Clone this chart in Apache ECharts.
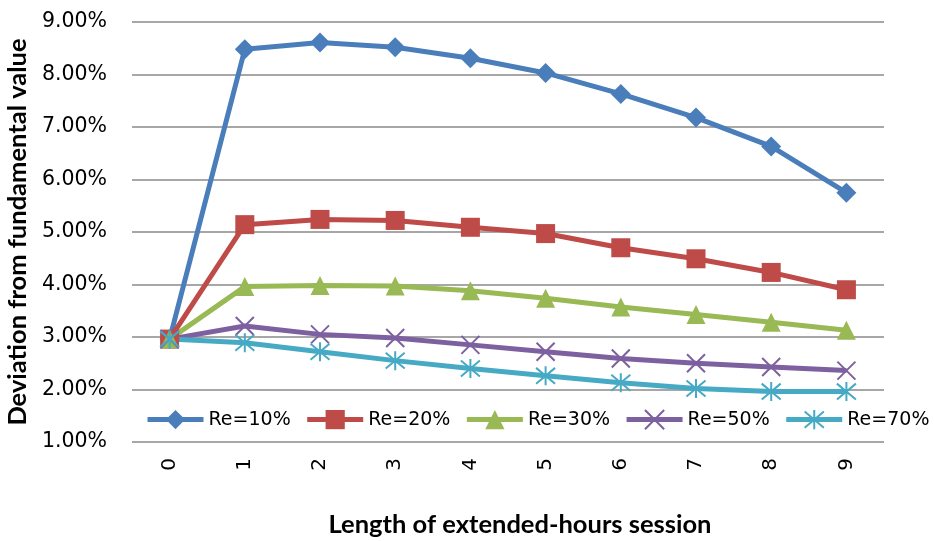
<!DOCTYPE html>
<html>
<head>
<meta charset="utf-8">
<script src="https://cdn.jsdelivr.net/npm/echarts@6/dist/echarts.min.js"></script>
<style>
  html, body { margin: 0; padding: 0; background: #ffffff; }
  #chart { width: 934px; height: 541px; }
</style>
</head>
<body>
<div id="chart"></div>
<script>
// Session lengths (categories)
var sessionLengths = ['0', '1', '2', '3', '4', '5', '6', '7', '8', '9'];

// Deviation from fundamental value, in percent, per Re level
var re10 = [2.96, 8.48, 8.61, 8.52, 8.31, 8.03, 7.63, 7.18, 6.63, 5.75];
var re20 = [2.96, 5.14, 5.24, 5.22, 5.09, 4.97, 4.70, 4.49, 4.23, 3.90];
var re30 = [2.96, 3.96, 3.98, 3.97, 3.88, 3.74, 3.57, 3.43, 3.28, 3.13];
var re50 = [2.96, 3.21, 3.05, 2.98, 2.85, 2.72, 2.59, 2.50, 2.43, 2.36];
var re70 = [2.96, 2.89, 2.72, 2.55, 2.40, 2.26, 2.13, 2.02, 1.96, 1.96];

var seriesNames = ['Re=10%', 'Re=20%', 'Re=30%', 'Re=50%', 'Re=70%'];

var FONT = 'DejaVu Sans';
var TITLE_FONT = 'Lato';
var crossPath = 'path://M0,0L10,10M10,0L0,10';
var starPath = 'path://M5,0L5,10M0.8,0.8L9.2,9.2M9.2,0.8L0.8,9.2';

function lineSeries(name, data, color, symbol, size, stroked) {
  return {
    name: name,
    type: 'line',
    data: data,
    symbol: symbol,
    symbolSize: size,
    showAllSymbol: true,
    lineStyle: { color: color, width: 5 },
    itemStyle: stroked
      ? { color: 'rgba(0,0,0,0)', borderColor: color, borderWidth: 2 }
      : { color: color, borderWidth: 0 },
    emphasis: { disabled: true },
    animation: false
  };
}

var chart = echarts.init(document.getElementById('chart'), null, { renderer: 'canvas' });

chart.setOption({
  backgroundColor: '#ffffff',
  animation: false,
  grid: {
    left: 132, right: 50, top: 22, bottom: 99,
    containLabel: false,
    outerBoundsMode: 'none'
  },
  legend: {
    left: 140,
    top: 404,
    width: 800,
    itemWidth: 56,
    itemHeight: 24,
    itemGap: 14,
    lineStyle: { width: 5 },
    textStyle: { fontFamily: FONT, fontSize: 19, color: '#000000' },
    data: seriesNames
  },
  xAxis: {
    type: 'category',
    data: sessionLengths,
    boundaryGap: true,
    axisLine: { show: false },
    axisTick: { show: false },
    axisLabel: {
      rotate: 90,
      margin: 16,
      fontFamily: FONT,
      fontSize: 20,
      color: '#000000'
    },
    name: 'Length of extended-hours session',
    nameLocation: 'middle',
    nameGap: 70,
    nameTextStyle: {
      fontFamily: TITLE_FONT, fontWeight: 'bold', fontSize: 25.5, color: '#000000',
      padding: [0, 0, 0, 24]
    }
  },
  yAxis: {
    type: 'value',
    min: 1,
    max: 9,
    interval: 1,
    axisLine: { show: false },
    axisTick: { show: false },
    splitLine: { lineStyle: { color: '#8a8a8a', width: 1.6 } },
    axisLabel: {
      margin: 25,
      fontFamily: FONT,
      fontSize: 20.5,
      color: '#000000',
      formatter: function (v) { return v.toFixed(2) + '%'; }
    },
    name: 'Deviation from fundamental value',
    nameLocation: 'middle',
    nameGap: 99,
    nameTextStyle: { fontFamily: TITLE_FONT, fontWeight: 'bold', fontSize: 25.5, color: '#000000' }
  },
  series: [
    lineSeries(seriesNames[0], re10, '#4a7ebb', 'diamond', 20, false),
    lineSeries(seriesNames[1], re20, '#be4b48', 'rect', 19, false),
    lineSeries(seriesNames[2], re30, '#98b954', 'triangle', 19, false),
    lineSeries(seriesNames[3], re50, '#7d60a0', crossPath, 18, true),
    lineSeries(seriesNames[4], re70, '#46aac5', starPath, 19, true)
  ]
});
</script>
</body>
</html>
